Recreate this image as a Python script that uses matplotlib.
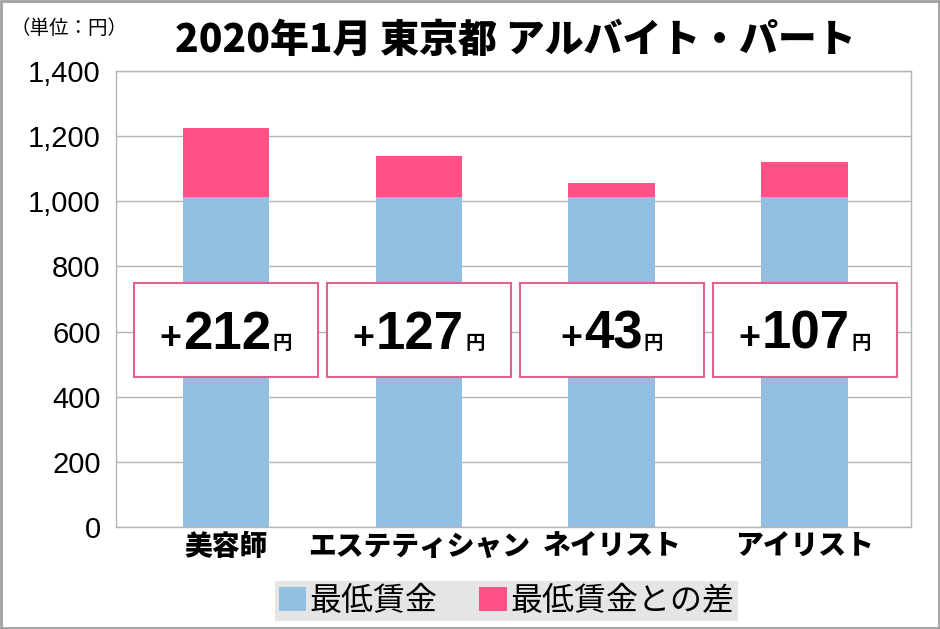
import matplotlib
matplotlib.use('Agg')
import matplotlib.pyplot as plt
from matplotlib.patches import Rectangle
from matplotlib.offsetbox import TextArea, HPacker, AnnotationBbox

plt.rcParams['font.family'] = ['Noto Sans CJK JP', 'DejaVu Sans']

# data
jobs = ['美容師', 'エステティシャン', 'ネイリスト', 'アイリスト']
min_wage = [1013, 1013, 1013, 1013]
diff = [212, 127, 43, 107]
y_ticks = [0, 200, 400, 600, 800, 1000, 1200, 1400]
y_tick_labels = ['0', '200', '400', '600', '800', '1,000', '1,200', '1,400']
legend_labels = ['最低賃金', '最低賃金との差']
title = '2020年1月 東京都 アルバイト・パート'
unit = '（単位：円）'

blue = '#93BFE0'
pink = '#FF5388'
edge_pink = '#E0628F'
grey = '#B4B4B4'

fig = plt.figure(figsize=(9.4, 6.29), dpi=100)
ax = fig.add_axes([116 / 940, 1 - 527 / 629, 795 / 940, 456 / 629])

x = list(range(len(jobs)))
ax.bar(x, min_wage, width=0.45, color=blue, label=legend_labels[0], zorder=2)
ax.bar(x, diff, width=0.45, bottom=min_wage, color=pink, label=legend_labels[1], zorder=2)

ax.set_xlim(-0.57, 3.55)
ax.set_ylim(0, 1400)
ax.set_yticks(y_ticks)
ax.set_yticklabels(y_tick_labels, family='Liberation Sans', fontsize=21)
ax.set_xticks(x)
ax.set_xticklabels(jobs, fontsize=20, fontweight='heavy')
ax.tick_params(axis='y', length=0, pad=11)
ax.tick_params(axis='x', length=0, pad=4)
ax.grid(axis='y', color=grey, lw=1, zorder=0)
for s in ax.spines.values():
    s.set_color(grey)
    s.set_linewidth(1)

# label boxes with the difference
for i, d in enumerate(diff):
    ax.add_patch(Rectangle((i - 0.475, 460), 0.95, 289, facecolor='white',
                           edgecolor=edge_pink, lw=1.5, zorder=3))
    parts = HPacker(children=[
        TextArea('+', textprops=dict(family='Liberation Sans', fontsize=27, fontweight='bold')),
        TextArea(str(d), textprops=dict(family='Liberation Sans', fontsize=38, fontweight='bold')),
        TextArea('円', textprops=dict(fontsize=14, fontweight='bold')),
    ], align='baseline', pad=0, sep=1)
    ab = AnnotationBbox(parts, (i, 590), box_alignment=(0.5, 0.5), frameon=False, zorder=4)
    ax.add_artist(ab)

fig.text(0.548, 0.936, title, ha='center', va='center', fontsize=28, fontweight='heavy')
fig.text(0.011, 0.954, unit, ha='left', va='center', fontsize=14)

leg = fig.legend(loc='lower center', bbox_to_anchor=(0.539, 0.0125), ncol=2,
                 fontsize=23, frameon=True, fancybox=False, facecolor='#E5E5E5',
                 edgecolor='none', framealpha=1, handlelength=0.85, handleheight=0.8,
                 handletextpad=0.12, columnspacing=1.3, borderpad=0.12,
                 borderaxespad=0)

# grey border round the figure
fig.add_artist(Rectangle((0.001, 0.001), 0.998, 0.998, transform=fig.transFigure,
                         fill=False, edgecolor='#A0A0A0', lw=2))

fig.savefig('out.png', dpi=100)
